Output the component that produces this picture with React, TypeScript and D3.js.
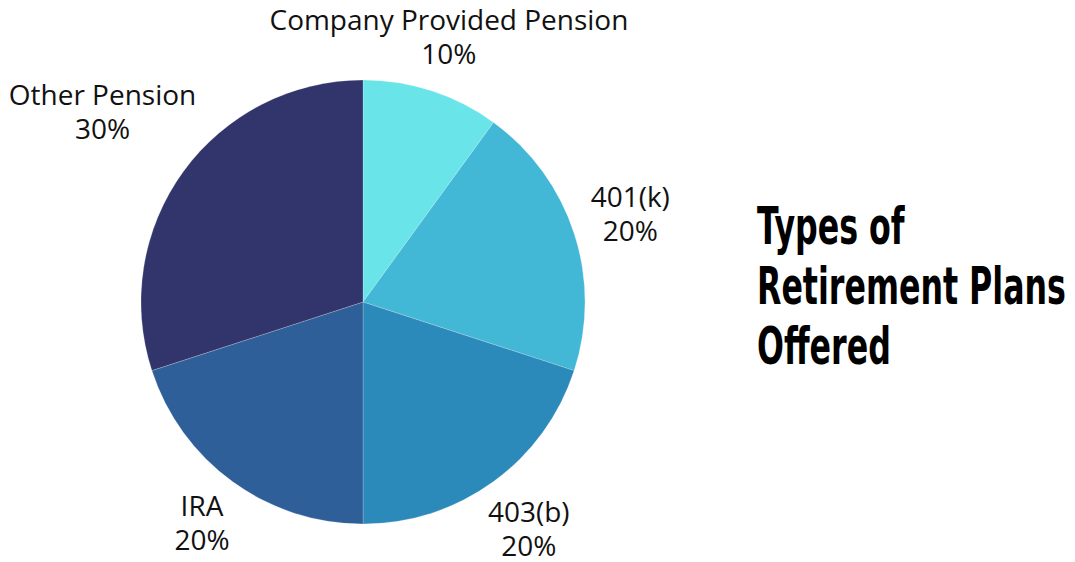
import * as d3 from "d3";
import React from "react";

const categories = ["Company Provided Pension", "401(k)", "403(b)", "IRA", "Other Pension"];
const shares = [10, 20, 20, 20, 30];
const colors = ["#69e4e8", "#42b7d6", "#2c8aba", "#2e5f98", "#32356b"];
const titleLines = ["Types of", "Retirement Plans", "Offered"];

// how far out each label sits from the centre (layout only)
const labelRadius: Record<string, number> = {
  "Company Provided Pension": 278,
  "401(k)": 281,
  "403(b)": 282,
  IRA: 274,
  "Other Pension": 322,
};

const width = 1075;
const height = 562;
const cx = 363;
const cy = 302;
const radius = 222;

const App = () => {
  const ref = React.useRef<SVGSVGElement | null>(null);

  const drawElm = (el: SVGSVGElement) => {
    const svg = d3.select(el).attr("width", width).attr("height", height);
    svg.selectAll("*").remove();

    const data = categories.map((c, i) => ({ name: c, value: shares[i], color: colors[i] }));
    const pie = d3.pie<any>().value((d) => d.value).sort(null);
    const arcs = pie(data);
    const arc = d3.arc<any>().innerRadius(0).outerRadius(radius);

    const g = svg.append("g").attr("transform", `translate(${cx},${cy})`);
    g.selectAll("path")
      .data(arcs)
      .join("path")
      .attr("d", arc)
      .attr("fill", (d) => d.data.color)
      .attr("stroke", "rgba(255,255,255,0.35)")
      .attr("stroke-width", 0.6);

    const labelFont = "'Open Sans', 'Noto Sans', sans-serif";
    // fit the label font to the reference width of the longest label
    const probe = svg.append("text").attr("font-family", labelFont).attr("font-size", 24).text(categories[0]);
    const measured = (probe.node() as SVGTextElement).getComputedTextLength();
    probe.remove();
    const labelSize = (24 * 359) / measured;

    const labels = g
      .append("g")
      .selectAll("g")
      .data(arcs)
      .join("g")
      .attr("font-family", labelFont)
      .attr("font-size", labelSize)
      .attr("fill", "#111")
      .attr("text-anchor", "middle")
      .attr("transform", (d) => {
        const a = (d.startAngle + d.endAngle) / 2;
        const lr = labelRadius[d.data.name];
        return `translate(${Math.sin(a) * lr},${-Math.cos(a) * lr})`;
      });
    labels
      .append("text")
      .attr("y", -8)
      .text((d) => d.data.name);
    labels
      .append("text")
      .attr("y", 26)
      .text((d) => `${d.data.value}%`);

    // title, squeezed horizontally to a condensed look
    const title = svg
      .append("g")
      .attr("font-family", "'Liberation Sans Narrow', 'DejaVu Sans Condensed', 'Liberation Sans', sans-serif")
      .attr("font-weight", 700)
      .attr("font-size", 52)
      .attr("fill", "#000");
    const tl = title
      .selectAll("text")
      .data(titleLines)
      .join("text")
      .attr("x", 0)
      .attr("y", (_d, i) => i * 60)
      .text((d) => d);
    const widest = d3.max(tl.nodes(), (n) => (n as SVGTextElement).getComputedTextLength()) || 1;
    title.attr("transform", `translate(757,244) scale(${309 / widest},1)`);
  };

  React.useEffect(() => {
    document.body.style.margin = "0";
    if (ref.current) drawElm(ref.current);
  }, []);

  return <svg ref={ref} width={width} height={height} style={{ display: "block" }} />;
};

export default App;
